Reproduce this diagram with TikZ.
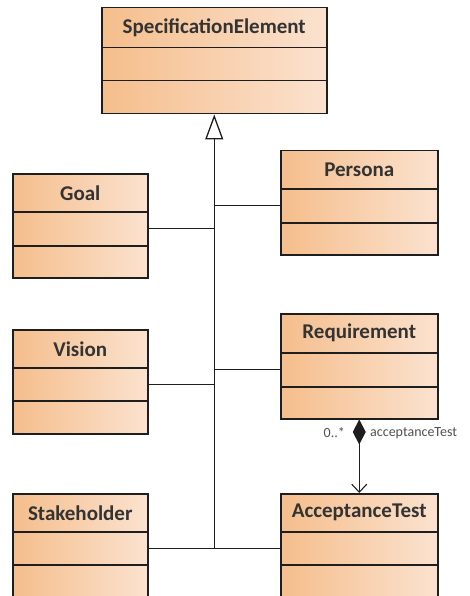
\documentclass[tikz,border=0pt]{standalone}
\usepackage{fontspec}
\setmainfont{Carlito}
\usetikzlibrary{arrows.meta}

\definecolor{ink}{HTML}{1E1E1E}
\definecolor{textink}{HTML}{333333}
\definecolor{labelink}{HTML}{505050}
\definecolor{warm}{HTML}{F5BE8C}
\definecolor{pale}{HTML}{FBE2CF}

\tikzset{
  cmp/.style={draw=ink, line width=1.5pt, inner sep=0pt, anchor=north west,
    left color=warm, right color=pale, text=textink,
    font=\bfseries\fontsize{21}{24}\selectfont},
  link/.style={draw=ink, line width=1.4pt},
  gen/.style={link, -{Triangle[open, length=25pt, width=18pt, line width=1.3pt]}},
  compose/.style={link, {Diamond[length=25pt, width=13pt]}-{Straight Barb[length=8pt, width=15pt, line width=1.1pt]}},
  role/.style={text=labelink, font=\fontsize{14}{16}\selectfont, inner sep=0pt}
}

% a class box: name, left, right, top, first divider, second divider, bottom, title
\newcommand{\umlclass}[8]{%
  \node[cmp, minimum width={(#3-#2)*1pt}, minimum height={(#5-#4)*1pt}] (#1) at (#2,#4) {#8};
  \node[cmp, minimum width={(#3-#2)*1pt}, minimum height={(#6-#5)*1pt}] (#1-a) at (#2,#5) {};
  \node[cmp, minimum width={(#3-#2)*1pt}, minimum height={(#7-#6)*1pt}] (#1-b) at (#2,#6) {};
}

\begin{document}
\begin{tikzpicture}[x=1pt, y=-1pt]
  \clip (0,0) rectangle (469,596);
  \fill[white] (0,0) rectangle (469,596);

  \umlclass{spec}{101}{326}{7}{47}{80}{113}{SpecificationElement}
  \umlclass{goal}{12}{147}{173}{211}{245}{277}{Goal}
  \umlclass{persona}{280}{437}{150}{188}{222}{254}{Persona}
  \umlclass{vision}{12}{147}{329}{367}{400}{433}{Vision}
  \umlclass{req}{280}{437}{313}{352}{386}{418}{Requirement}
  \umlclass{stake}{12}{147}{493}{531}{564}{610}{Stakeholder}
  \umlclass{acc}{280}{437}{493}{531}{564}{610}{AcceptanceTest}

  % generalization trunk
  \coordinate (hub) at (spec-b.south |- stake-a.east);
  \draw[gen] (hub) -- (spec-b.south);

  % branches into the trunk
  \draw[link] (goal-a.east) -- (goal-a.east -| hub);
  \draw[link] (persona-a.west) -- (persona-a.west -| hub);
  \draw[link] (vision-a.east) -- (vision-a.east -| hub);
  \draw[link] (req-a.west) -- (req-a.west -| hub);
  \draw[link] (stake-a.east) -- (acc-a.west);

  % composition
  \draw[compose] (req-b.south) -- (acc.north);
  \node[role, anchor=east] (mult) at (345,433) {0..*};
  \node[role, anchor=west] (rolename) at (370,433) {acceptanceTest};
\end{tikzpicture}
\end{document}
